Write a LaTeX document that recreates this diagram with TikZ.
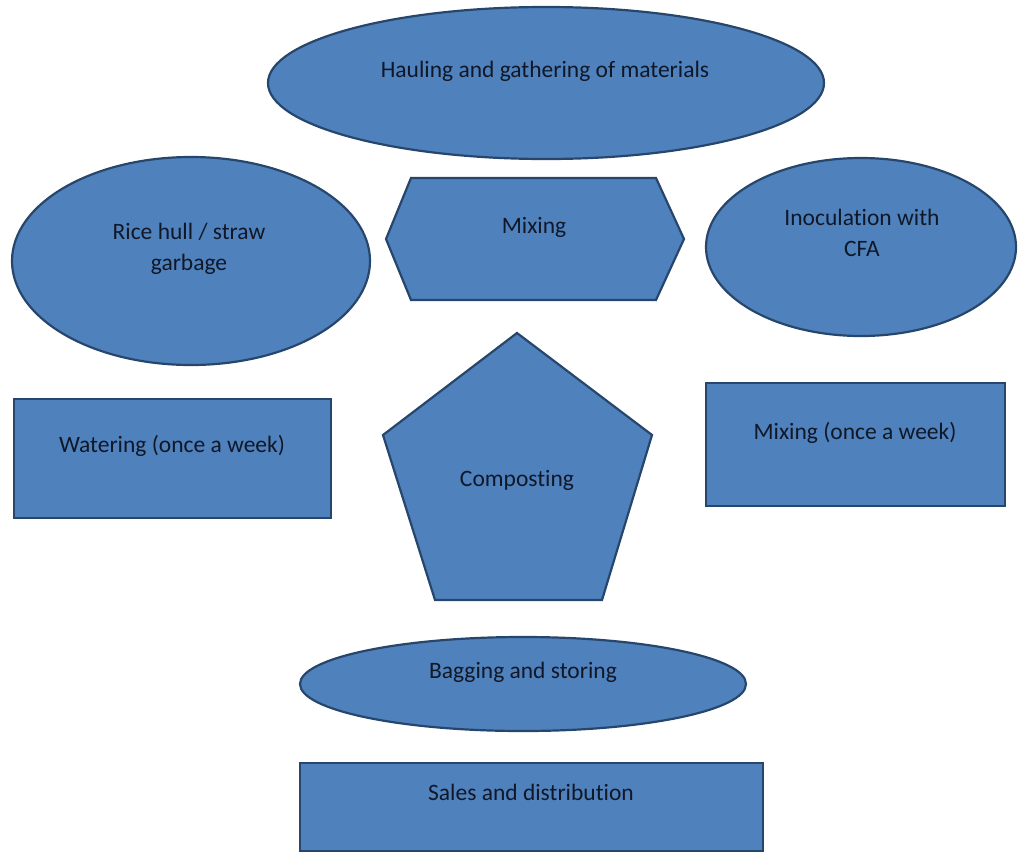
\documentclass[tikz,border=0pt]{standalone}
\usepackage{fontspec}
\setmainfont{Carlito}[RawFeature=-liga]
\definecolor{fillblue}{HTML}{4F81BD}
\definecolor{edgeblue}{HTML}{27466C}
\definecolor{txt}{HTML}{101828}
\begin{document}
\begin{tikzpicture}[x=1pt,y=-1pt,
  shapebox/.style={fill=fillblue,draw=edgeblue,line width=2.2pt,line join=miter},
  lbl/.style={text=txt,font=\fontsize{23.5}{31}\selectfont,align=center,inner sep=0pt}]
\useasboundingbox (0,0) rectangle (1019,854);
% shapes
\draw[shapebox] (546,83) ellipse [x radius=278,y radius=76];
\draw[shapebox] (386,239) -- (411,178) -- (656,178) -- (684,239) -- (656,300) -- (411,300) -- cycle;
\draw[shapebox] (191,261) ellipse [x radius=179,y radius=104];
\draw[shapebox] (861,247) ellipse [x radius=155,y radius=89];
\draw[shapebox] (14,399) rectangle (331,518);
\draw[shapebox] (517,333) -- (652,435) -- (602,600) -- (435,600) -- (383,435) -- cycle;
\draw[shapebox] (706,383) rectangle (1005,506);
\draw[shapebox] (523,684) ellipse [x radius=223,y radius=47];
\draw[shapebox] (300,763) rectangle (763,851);
% labels
\node[lbl] (haul) at (545,71) {Hauling and gathering of materials};
\node[lbl] (mix) at (534,227) {Mixing};
\node[lbl] (rice) at (189,249) {Rice hull / straw\\garbage};
\node[lbl] (inoc) at (862,233) {Inoculation with\\CFA};
\node[lbl] (water) at (172,446) {Watering (once a week)};
\node[lbl] (comp) at (517,480) {Composting};
\node[lbl] (mixw) at (855,433) {Mixing (once a week)};
\node[lbl] (bag) at (523,672) {Bagging and storing};
\node[lbl] (sales) at (531,792) {Sales and distribution};
\end{tikzpicture}
\end{document}
